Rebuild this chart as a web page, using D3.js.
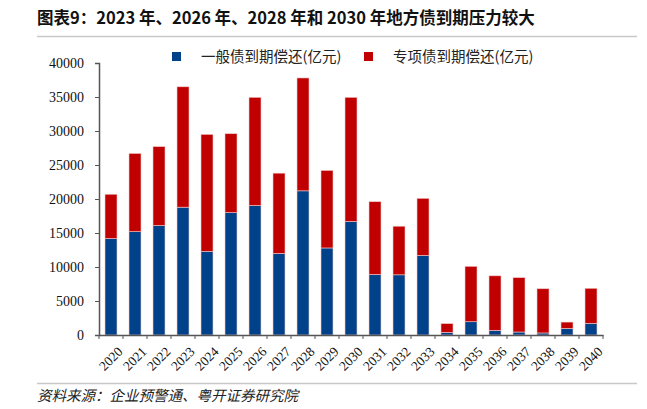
<!DOCTYPE html>
<html>
<head>
<meta charset="utf-8">
<script src="https://cdn.jsdelivr.net/npm/d3@7"></script>
<style>
  body { margin: 0; background: #fff; }
  svg { display: block; }
  .serif { font-family: "Liberation Serif", "Times New Roman", Times, serif; }
</style>
</head>
<body>
<svg id="chart"></svg>
<script>
const width = 647;
const height = 409;

// values (亿元)
const years = ["2020","2021","2022","2023","2024","2025","2026","2027","2028","2029","2030",
  "2031","2032","2033","2034","2035","2036","2037","2038","2039","2040"];
const general = [14200, 15200, 16100, 18800, 12300, 18000, 19050, 12000, 21200, 12800, 16700,
  8900, 8850, 11700, 400, 1950, 680, 440, 300, 980, 1720];
const special = [6500, 11500, 11600, 17700, 17200, 11600, 15900, 11800, 16600, 11400, 18250,
  10700, 7150, 8400, 1270, 8150, 8020, 7990, 6500, 920, 5150];
const yTicks = [0, 5000, 10000, 15000, 20000, 25000, 30000, 35000, 40000];
const seriesNames = ["一般债到期偿还(亿元)", "专项债到期偿还(亿元)"];
const colors = ["#00428A", "#C00000"];

const rows = years.map((y, i) => ({ year: y, general: general[i], special: special[i] }));
const stacked = d3.stack().keys(["general", "special"])(rows);

const margin = { top: 63, left: 99, right: 44, bottom: 74 };

const svg = d3.select("#chart")
  .attr("width", width)
  .attr("height", height);

// title
svg.append("text")
  .attr("x", 37)
  .attr("y", 24)
  .style("font-family", "'Noto Sans CJK SC', sans-serif")
  .style("font-size", "16.5px")
  .style("font-weight", "bold")
  .style("fill", "#111")
  .text("图表9：2023 年、2026 年、2028 年和 2030 年地方债到期压力较大");

svg.append("line")
  .attr("x1", 37).attr("x2", 637)
  .attr("y1", 36.5).attr("y2", 36.5)
  .attr("stroke", "#c8c8c8").attr("stroke-width", 1.5);

svg.append("line")
  .attr("x1", 37).attr("x2", 637)
  .attr("y1", 383.5).attr("y2", 383.5)
  .attr("stroke", "#c8c8c8").attr("stroke-width", 1.5);

svg.append("text")
  .attr("x", 37)
  .attr("y", 401)
  .style("font-family", "'Noto Sans CJK SC', sans-serif")
  .style("font-size", "14.5px")
  .style("font-style", "italic")
  .style("fill", "#222")
  .text("资料来源：企业预警通、粤开证券研究院");

// scales
const x = d3.scaleBand()
  .domain(years)
  .range([margin.left, width - margin.right])
  .paddingInner(0.5)
  .paddingOuter(0.25);

const y = d3.scaleLinear()
  .domain([0, 40000])
  .range([height - margin.bottom, margin.top]);

// bars
svg.append("g")
  .selectAll("g")
  .data(stacked)
  .join("g")
  .attr("fill", (d, i) => colors[i])
  .selectAll("rect")
  .data(d => d)
  .join("rect")
  .attr("x", d => x(d.data.year))
  .attr("y", d => y(d[1]))
  .attr("width", x.bandwidth())
  .attr("height", d => y(d[0]) - y(d[1]))
  .attr("stroke", "#f3c6c6")
  .attr("stroke-width", 0.6);

// y axis
const yAxis = svg.append("g")
  .attr("transform", `translate(${margin.left},0)`)
  .call(d3.axisLeft(y).tickValues(yTicks).tickSize(4).tickPadding(11).tickFormat(d3.format("d")));
yAxis.attr("font-family", null).attr("font-size", null);
yAxis.select(".domain").attr("stroke", "#555").attr("stroke-width", 1.5);
yAxis.selectAll(".tick line").attr("stroke", "#555");
yAxis.selectAll("text")
  .attr("class", "serif")
  .style("font-size", "14px")
  .style("fill", "#111");

// x axis: ticks on the band edges
const xAxis = svg.append("g")
  .attr("transform", `translate(0,${y(0)})`)
  .call(d3.axisBottom(x).tickSize(0).tickSizeOuter(0));
xAxis.attr("font-family", null).attr("font-size", null);
xAxis.select(".domain").attr("stroke", "#555").attr("stroke-width", 1.5);
xAxis.selectAll(".tick text")
  .attr("class", "serif")
  .style("font-size", "13.5px")
  .style("fill", "#111")
  .attr("text-anchor", "end")
  .attr("transform", "translate(7,12) rotate(-45)")
  .attr("dy", "0.35em");

const step = x.step();
const edges = d3.range(years.length + 1).map(i => margin.left + i * step);
svg.append("g")
  .selectAll("line")
  .data(edges)
  .join("line")
  .attr("x1", d => d).attr("x2", d => d)
  .attr("y1", y(0)).attr("y2", y(0) + 4)
  .attr("stroke", "#555");

// legend
const legend = svg.append("g")
  .selectAll("g")
  .data(seriesNames)
  .join("g")
  .attr("transform", (d, i) => `translate(${[172, 364][i]},52)`);
legend.append("rect")
  .attr("width", 9).attr("height", 9)
  .attr("fill", (d, i) => colors[i]);
legend.append("text")
  .attr("x", 29)
  .attr("y", 10)
  .style("font-family", "'Noto Sans CJK SC', sans-serif")
  .style("font-size", "14.5px")
  .style("fill", "#222")
  .text(d => d);
</script>
</body>
</html>
